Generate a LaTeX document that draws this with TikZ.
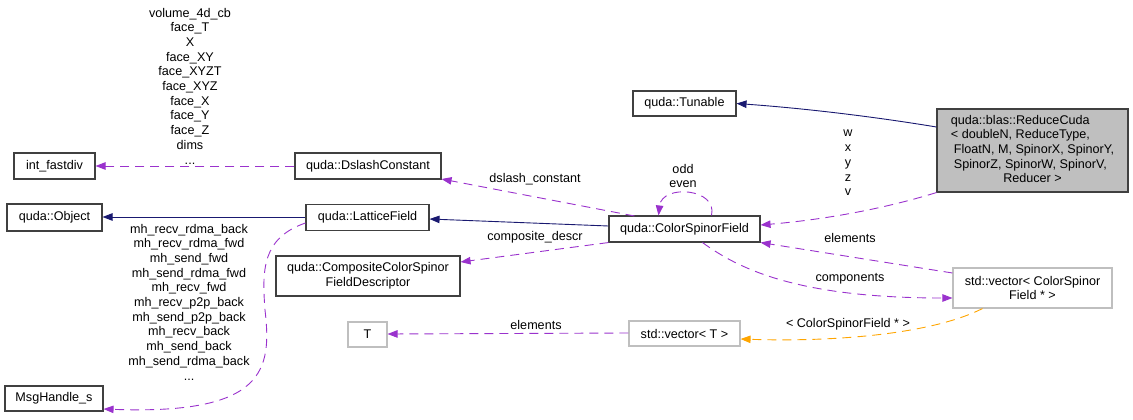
\documentclass[tikz,border=0pt]{standalone}
\usepackage{fontspec}
\setmainfont{Liberation Sans}
\usetikzlibrary{arrows.meta}
\definecolor{edgepurple}{HTML}{9A32CD}
\definecolor{edgenavy}{HTML}{191970}
\definecolor{edgeorange}{HTML}{FFA500}
\definecolor{boxdark}{HTML}{404040}
\definecolor{boxlight}{HTML}{BFBFBF}
\definecolor{boxfill}{HTML}{BFBFBF}
\begin{document}
\begin{tikzpicture}[x=1pt,y=-1pt,
  txt/.style={font=\fontsize{12.6}{14.7}\selectfont, inner sep=0pt},
  box/.style={txt, draw=boxdark, line width=1.1pt, align=center},
  lbox/.style={txt, draw=boxlight, line width=1.1pt, align=center},
  lbl/.style={txt, align=center},
  tip/.style={-{Triangle[length=10pt,width=7.5pt]}},
  dep/.style={tip, edgepurple, line width=0.9pt, dash pattern=on 9pt off 6pt},
  inh/.style={tip, edgenavy, line width=0.9pt},
  tmpl/.style={tip, edgeorange, line width=0.9pt, dash pattern=on 9pt off 6pt}]
\useasboundingbox (0,0) rectangle (1133,420);

% nodes
\node[box, minimum width=81pt, minimum height=26pt] (intf) at (54.5,166) {int\_fastdiv};
\node[box, minimum width=146pt, minimum height=26pt] (dslash) at (368,166) {quda::DslashConstant};
\node[box, minimum width=95pt, minimum height=27pt] (obj) at (54.5,217.5) {quda::Object};
\node[box, minimum width=123pt, minimum height=26pt] (lat) at (367.5,217.5) {quda::LatticeField};
\node[box, minimum width=184pt, minimum height=40pt] (comp) at (368,276) {quda::CompositeColorSpinor\\FieldDescriptor};
\node[lbox, minimum width=39pt, minimum height=25pt] (T) at (367.5,334.5) {T};
\node[box, minimum width=98pt, minimum height=25pt] (msg) at (54,398.5) {MsgHandle\_s};
\node[box, minimum width=103pt, minimum height=25pt] (tun) at (684.5,103.5) {quda::Tunable};
\node[box, minimum width=151pt, minimum height=26pt] (csf) at (684.5,229) {quda::ColorSpinorField};
\node[box, fill=boxfill, minimum width=191pt, minimum height=83pt] (red) at (1032.5,150.5)
  {\def\arraystretch{1}\begin{tabular}{@{}l@{}}quda::blas::ReduceCuda\\
  \textless{} doubleN, ReduceType,\\
  \hspace{3pt}FloatN, M, SpinorX, SpinorY,\\
  \hspace{3pt}SpinorZ, SpinorW, SpinorV,\\
  \multicolumn{1}{@{}c@{}}{Reducer \textgreater}\end{tabular}};
\node[lbox, minimum width=159pt, minimum height=40pt] (vcsf) at (1032.5,288) {std::vector\textless{} ColorSpinor\\Field * \textgreater};
\node[lbox, minimum width=111pt, minimum height=25pt] (vT) at (684.5,333.5) {std::vector\textless{} T \textgreater};

% edge labels
\node[lbl] (lintf) at (190,86) {volume\_4d\_cb\\face\_T\\X\\face\_XY\\face\_XYZT\\face\_XYZ\\face\_X\\face\_Y\\face\_Z\\dims\\...};
\node[lbl] (lmsg) at (189,302) {mh\_recv\_rdma\_back\\mh\_recv\_rdma\_fwd\\mh\_send\_fwd\\mh\_send\_rdma\_fwd\\mh\_recv\_fwd\\mh\_recv\_p2p\_back\\mh\_send\_p2p\_back\\mh\_recv\_back\\mh\_send\_back\\mh\_send\_rdma\_back\\...};
\node[lbl] (lred) at (848,163) {w\\x\\y\\z\\v};
\node[lbl] (lself) at (683,176) {odd\\even};
\node[lbl] (ldsl) at (535,179) {dslash\_constant};
\node[lbl] (lcomp) at (535,237) {composite\_descr};
\node[lbl] (lel1) at (850,238) {elements};
\node[lbl] (lcmp) at (850,279) {components};
\node[lbl] (lcsfp) at (848,324) {\textless{} ColorSpinorField * \textgreater};
\node[lbl] (lel2) at (536,325) {elements};

% edges
\draw[inh] (red.west |- 0,127) .. controls (870,116) and (800,108) .. (tun.east);
\draw[dep] (red.south west) .. controls (880,210) and (820,220) .. (csf.east |- 0,225);
\draw[dep] (csf.north west |- 635,216) ++(26,0) -- (dslash.east |- 0,179);
\draw[dep] ([xshift=27pt]csf.north) .. controls (718,188) and (662,184) .. ([xshift=-26pt]csf.north);
\draw[inh] (csf.west |- 0,226) -- (lat.east |- 0,219);
\draw[dep] (csf.south west) -- (comp.east |- 0,262);
\draw[dep] (vcsf.west |- 0,273) -- (csf.south east);
\draw[dep] ([xshift=18pt]csf.south) .. controls (740,270) and (800,298) .. (vcsf.west |- 0,298);
\draw[tmpl] ([xshift=-50pt]vcsf.south) .. controls (930,335) and (830,342) .. (vT.east |- 0,339);
\draw[dep] (vT.west |- 0,333) -- (T.east |- 0,334);
\draw[dep] (dslash.west) -- (intf.east);
\draw[inh] (lat.west |- 0,217) -- (obj.east |- 0,217);
\draw[dep] (lat.west |- 0,223) .. controls (262,238) and (262,270) .. (265,310) .. controls (272,370) and (265,415) .. (msg.east |- 0,409);
\end{tikzpicture}
\end{document}
